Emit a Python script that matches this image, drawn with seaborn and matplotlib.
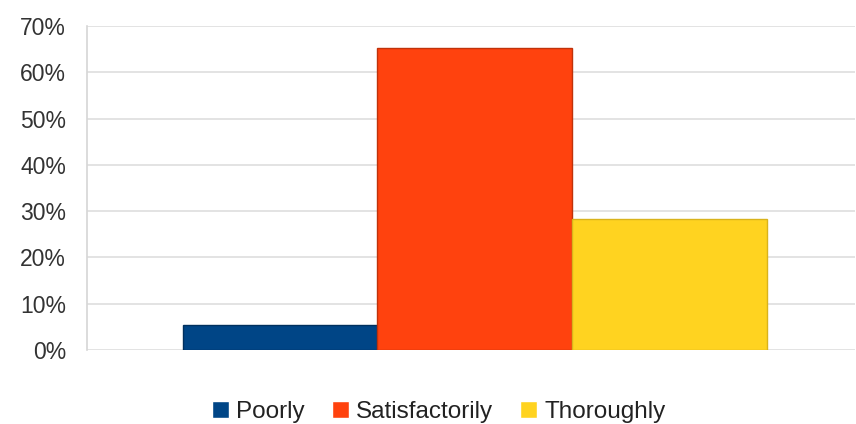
import numpy as np
import pandas as pd
import seaborn as sns
import matplotlib.pyplot as plt
from matplotlib.ticker import PercentFormatter

# Survey answer shares
answers = ['Poorly', 'Satisfactorily', 'Thoroughly']
shares = [5.5, 65.3, 28.3]
colors = ['#004586', '#ff420e', '#ffd320']
edges = ['#00305e', '#c0320a', '#d9b31b']

df = pd.DataFrame({'group': ['all'] * len(answers), 'answer': answers, 'share': shares})

sns.set_style('white')
plt.rcParams['font.family'] = ['Liberation Sans', 'DejaVu Sans']

fig = plt.figure(figsize=(8.56, 4.24), dpi=100)
ax = fig.add_axes([0.1016, 0.1745, 0.897, 0.764])

sns.barplot(data=df, x='group', y='share', hue='answer', palette=colors,
            width=0.76, saturation=1, ax=ax, legend=True)

# darker outline on each bar
for patch, ec in zip(ax.patches, edges):
    patch.set_edgecolor(ec)
    patch.set_linewidth(1)

ax.set_ylim(0, 70)
ax.set_yticks(np.arange(0, 71, 10))
ax.yaxis.set_major_formatter(PercentFormatter(decimals=0))
ax.set_xlim(-0.505, 0.495)
ax.set_xticks([])
ax.set_xlabel('')
ax.set_ylabel('')

ax.grid(axis='y', color='#dedede', linewidth=1.2)
ax.set_axisbelow(True)
for side in ['top', 'right', 'bottom']:
    ax.spines[side].set_visible(False)
ax.spines['left'].set_color('#d6d6d6')
ax.spines['left'].set_linewidth(1.2)
ax.tick_params(axis='y', length=7, width=1.2, color='#d6d6d6', pad=8,
               labelsize=16.5, labelcolor='#333333')

ax.legend(loc='center', bbox_to_anchor=(0.458, -0.192), ncol=3, frameon=False,
          fontsize=17.5, handlelength=0.7, handleheight=0.7, handletextpad=0.3,
          columnspacing=1.1, labelcolor='#222222', borderpad=0.2)

plt.savefig('out.png', dpi=100)
